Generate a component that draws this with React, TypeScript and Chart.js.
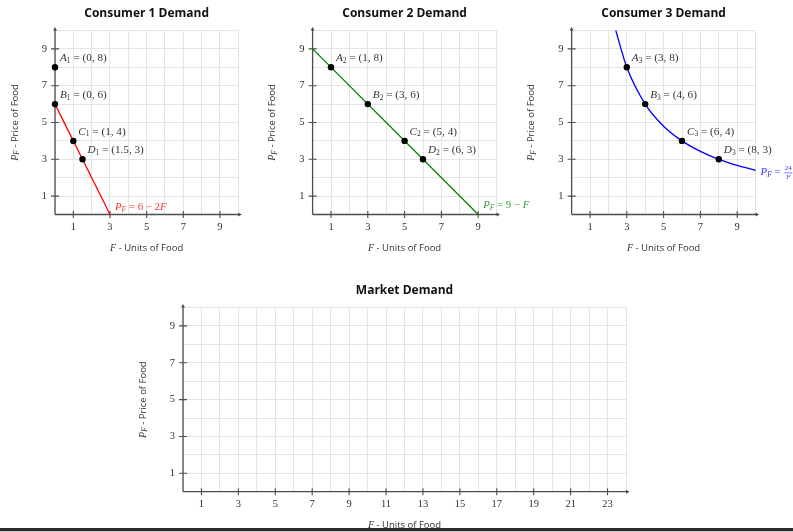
import React, { useEffect, useRef } from 'react';
import { Chart, registerables } from 'chart.js';

Chart.register(...registerables);

// ---------- data ----------
const pointNames = ['A', 'B', 'C', 'D'];

const c1X = [0, 0, 1, 1.5];
const c1Y = [8, 6, 4, 3];
const c1LineX = [0, 3];
const c1LineY = [6, 0];

const c2X = [1, 3, 5, 6];
const c2Y = [8, 6, 4, 3];
const c2LineX = [0, 9];
const c2LineY = [9, 0];

const c3X = [3, 4, 6, 8];
const c3Y = [8, 6, 4, 3];
const c3CurveX = [2.4, 3, 4, 5, 6, 7, 8, 9, 10];
const c3CurveY = [10, 8, 6, 4.8, 4, 3.43, 3, 2.67, 2.4];

const smallXTickLabels = [1, 3, 5, 7, 9];
const marketXTickLabels = [1, 3, 5, 7, 9, 11, 13, 15, 17, 19, 21, 23];
const yTickLabels = [1, 3, 5, 7, 9];

// ---------- styles ----------
const SANS = '"Open Sans", "DejaVu Sans", sans-serif';
const SERIF = '"Liberation Serif", "DejaVu Serif", serif';
const TEXT = '#333333';
const GRID = '#e4e4e4';
const AXIS = '#4d4d4d';

type Part = { t: string; font: string; dy?: number };

const mI = (s: string, size = 11.2): Part => ({ t: s, font: `italic ${size}px ${SERIF}` });
const mT = (s: string, size = 11.2): Part => ({ t: s, font: `${size}px ${SERIF}` });
const mSubI = (s: string): Part => ({ t: s, font: `italic 7.5px ${SERIF}`, dy: 2.5 });
const mSub = (s: string): Part => ({ t: s, font: `7.5px ${SERIF}`, dy: 2.5 });
const sT = (s: string, size = 10): Part => ({ t: s, font: `${size}px ${SANS}` });

function partsWidth(ctx: CanvasRenderingContext2D, parts: Part[]) {
  return parts.reduce((w, p) => {
    ctx.font = p.font;
    return w + ctx.measureText(p.t).width;
  }, 0);
}

function drawParts(
  ctx: CanvasRenderingContext2D,
  parts: Part[],
  x: number,
  y: number,
  align: 'left' | 'center',
  color: string
) {
  ctx.save();
  ctx.textBaseline = 'middle';
  ctx.textAlign = 'left';
  ctx.fillStyle = color;
  const w = partsWidth(ctx, parts);
  let cx = align === 'center' ? x - w / 2 : x;
  for (const p of parts) {
    ctx.font = p.font;
    ctx.fillText(p.t, cx, y + (p.dy || 0));
    cx += ctx.measureText(p.t).width;
  }
  ctx.restore();
  return cx;
}

type Panel = {
  title: string;
  width: number;
  height: number;
  area: { left: number; top: number; right: number; bottom: number };
  xMax: number;
  yMax: number;
  xLabels: number[];
  yLabels: number[];
  datasets: any[];
  points?: { xs: number[]; ys: number[]; sub: string };
  equation?: {
    at: [number, number];
    dx: number;
    dy: number;
    color: string;
    parts: Part[];
    fraction?: [string, string];
  };
};

const fmt = (v: number) => String(v);

function makeDecor(p: Panel) {
  return {
    id: 'decor',
    beforeDatasetsDraw(chart: any) {
      const { ctx, scales } = chart;
      const x = scales.x;
      const y = scales.y;
      const x0 = x.getPixelForValue(0);
      const y0 = y.getPixelForValue(0);
      const xEnd = x.getPixelForValue(p.xMax);
      const yEnd = y.getPixelForValue(p.yMax);
      ctx.save();
      ctx.strokeStyle = AXIS;
      ctx.fillStyle = AXIS;
      ctx.lineWidth = 1.3;
      ctx.beginPath();
      ctx.moveTo(x0, y0);
      ctx.lineTo(xEnd + 1, y0);
      ctx.moveTo(x0, y0);
      ctx.lineTo(x0, yEnd - 1);
      ctx.stroke();
      // arrows
      ctx.beginPath();
      ctx.moveTo(xEnd + 3.5, y0);
      ctx.lineTo(xEnd, y0 - 2);
      ctx.lineTo(xEnd, y0 + 2);
      ctx.closePath();
      ctx.fill();
      ctx.beginPath();
      ctx.moveTo(x0, yEnd - 3.5);
      ctx.lineTo(x0 - 2, yEnd);
      ctx.lineTo(x0 + 2, yEnd);
      ctx.closePath();
      ctx.fill();
      // tick marks
      ctx.lineWidth = 1.1;
      ctx.beginPath();
      for (const v of p.xLabels) {
        const px = x.getPixelForValue(v);
        ctx.moveTo(px, y0 - 3.5);
        ctx.lineTo(px, y0 + 3.5);
      }
      for (const v of p.yLabels) {
        const py = y.getPixelForValue(v);
        ctx.moveTo(x0 - 4, py);
        ctx.lineTo(x0 + 4, py);
      }
      ctx.stroke();
      ctx.restore();
    },
    afterDatasetsDraw(chart: any) {
      const { ctx, scales } = chart;
      const x = scales.x;
      const y = scales.y;
      if (p.points) {
        const { xs, ys, sub } = p.points;
        xs.forEach((xv, i) => {
          const px = x.getPixelForValue(xv);
          const py = y.getPixelForValue(ys[i]);
          drawParts(
            ctx,
            [mI(pointNames[i]), mSub(sub), mT(` = (${fmt(xv)}, ${fmt(ys[i])})`)],
            px + 5,
            py - 9,
            'left',
            TEXT
          );
        });
      }
      if (p.equation) {
        const e = p.equation;
        const px = x.getPixelForValue(e.at[0]) + e.dx;
        const py = y.getPixelForValue(e.at[1]) + e.dy;
        const endX = drawParts(ctx, e.parts, px, py, 'left', e.color);
        if (e.fraction) {
          ctx.save();
          ctx.fillStyle = e.color;
          ctx.strokeStyle = e.color;
          ctx.textAlign = 'center';
          ctx.textBaseline = 'middle';
          ctx.font = `7px ${SERIF}`;
          const w = Math.max(ctx.measureText(e.fraction[0]).width, 6) + 1;
          const cx = endX + w / 2 + 1;
          ctx.fillText(e.fraction[0], cx, py - 4);
          ctx.font = `italic 7px ${SERIF}`;
          ctx.fillText(e.fraction[1], cx, py + 4.5);
          ctx.lineWidth = 0.6;
          ctx.beginPath();
          ctx.moveTo(cx - w / 2, py + 0.5);
          ctx.lineTo(cx + w / 2, py + 0.5);
          ctx.stroke();
          ctx.restore();
        }
      }
    },
    afterDraw(chart: any) {
      const { ctx, chartArea: a } = chart;
      const cx = (a.left + a.right) / 2;
      const cy = (a.top + a.bottom) / 2;
      ctx.save();
      ctx.fillStyle = '#111';
      ctx.textAlign = 'center';
      ctx.textBaseline = 'middle';
      ctx.font = `bold 12px ${SANS}`;
      ctx.fillText(p.title, cx, a.top - 16.5);
      ctx.restore();
      drawParts(ctx, [mI('F', 10), sT(' - Units of Food', 9.5)], cx, a.bottom + 33.5, 'center', TEXT);
      ctx.save();
      ctx.translate(a.left - 40, cy);
      ctx.rotate(-Math.PI / 2);
      drawParts(
        ctx,
        [mI('P', 10), mSubI('F'), sT(' - Price of Food', 9.5)],
        0,
        0,
        'center',
        TEXT
      );
      ctx.restore();
    },
  };
}

function buildConfig(p: Panel): any {
  const a = p.area;
  return {
    type: 'scatter',
    data: { datasets: p.datasets },
    options: {
      responsive: false,
      animation: false,
      events: [],
      layout: { padding: { left: 0, top: a.top, right: p.width - a.right, bottom: 0 } },
      plugins: { legend: { display: false }, tooltip: { enabled: false }, title: { display: false } },
      scales: {
        x: {
          type: 'linear',
          min: 0,
          max: p.xMax,
          afterFit: (s: any) => {
            s.height = p.height - a.bottom;
          },
          ticks: {
            stepSize: 1,
            autoSkip: false,
            maxRotation: 0,
            padding: 6,
            color: TEXT,
            font: { family: SERIF, size: 10.5 },
            callback: (v: any) => (p.xLabels.includes(Number(v)) ? String(v) : ''),
          },
          grid: { color: GRID, lineWidth: 1, drawTicks: false },
          border: { display: false },
        },
        y: {
          type: 'linear',
          min: 0,
          max: p.yMax,
          afterFit: (s: any) => {
            s.width = a.left;
          },
          ticks: {
            stepSize: 1,
            autoSkip: false,
            padding: 8,
            color: TEXT,
            font: { family: SERIF, size: 10.5 },
            callback: (v: any) => (p.yLabels.includes(Number(v)) ? String(v) : ''),
          },
          grid: { color: GRID, lineWidth: 1, drawTicks: false },
          border: { display: false },
        },
      },
    },
    plugins: [makeDecor(p)],
  };
}

const toPts = (xs: number[], ys: number[]) => xs.map((x, i) => ({ x, y: ys[i] }));

const lineDs = (xs: number[], ys: number[], color: string, curve = false) => ({
  data: toPts(xs, ys),
  showLine: true,
  borderColor: color,
  borderWidth: 1.3,
  pointRadius: 0,
  clip: false,
  cubicInterpolationMode: curve ? 'monotone' : 'default',
  order: 2,
});

const dotDs = (xs: number[], ys: number[]) => ({
  data: toPts(xs, ys),
  showLine: false,
  pointRadius: 3.2,
  pointBackgroundColor: '#000',
  pointBorderWidth: 0,
  clip: false,
  order: 1,
});

const panel1: Panel = {
  title: 'Consumer 1 Demand',
  width: 260,
  height: 260,
  area: { left: 55, top: 30.5, right: 238.3, bottom: 214.5 },
  xMax: 10,
  yMax: 10,
  xLabels: smallXTickLabels,
  yLabels: yTickLabels,
  datasets: [lineDs(c1LineX, c1LineY, '#ff0000'), dotDs(c1X, c1Y)],
  points: { xs: c1X, ys: c1Y, sub: '1' },
  equation: {
    at: [c1LineX[1], c1LineY[1]],
    dx: 5,
    dy: -7,
    color: '#ff3333',
    parts: [mI('P', 10.8), mSubI('F'), mT(' = 6 − 2', 10.8), mI('F', 10.8)],
  },
};

const panel2: Panel = {
  title: 'Consumer 2 Demand',
  width: 290,
  height: 260,
  area: { left: 52.6, top: 30.5, right: 236.6, bottom: 214.5 },
  xMax: 10,
  yMax: 10,
  xLabels: smallXTickLabels,
  yLabels: yTickLabels,
  datasets: [lineDs(c2LineX, c2LineY, '#008000'), dotDs(c2X, c2Y)],
  points: { xs: c2X, ys: c2Y, sub: '2' },
  equation: {
    at: [c2LineX[1], c2LineY[1]],
    dx: 5,
    dy: -9,
    color: '#33a033',
    parts: [mI('P', 10.8), mSubI('F'), mT(' = 9 − ', 10.8), mI('F', 10.8)],
  },
};

const panel3: Panel = {
  title: 'Consumer 3 Demand',
  width: 273,
  height: 260,
  area: { left: 51.6, top: 30.5, right: 235.6, bottom: 214.5 },
  xMax: 10,
  yMax: 10,
  xLabels: smallXTickLabels,
  yLabels: yTickLabels,
  datasets: [lineDs(c3CurveX, c3CurveY, '#0000ff', true), dotDs(c3X, c3Y)],
  points: { xs: c3X, ys: c3Y, sub: '3' },
  equation: {
    at: [c3CurveX[c3CurveX.length - 1], c3CurveY[c3CurveY.length - 1]],
    dx: 5,
    dy: 2,
    color: '#3333ff',
    parts: [mI('P', 10.8), mSubI('F'), mT(' = ', 10.8)],
    fraction: ['24', 'F'],
  },
};

const panel4: Panel = {
  title: 'Market Demand',
  width: 520,
  height: 262,
  area: { left: 53, top: 37.5, right: 496, bottom: 221.7 },
  xMax: 24,
  yMax: 10,
  xLabels: marketXTickLabels,
  yLabels: yTickLabels,
  datasets: [],
};

function PanelChart({ panel, left, top }: { panel: Panel; left: number; top: number }) {
  const ref = useRef<HTMLCanvasElement>(null);
  useEffect(() => {
    if (!ref.current) return;
    const chart = new Chart(ref.current, buildConfig(panel));
    return () => chart.destroy();
  }, [panel]);
  return (
    <canvas
      ref={ref}
      width={panel.width}
      height={panel.height}
      style={{ position: 'absolute', left, top, width: panel.width, height: panel.height }}
    />
  );
}

export default function App() {
  return (
    <div
      style={{
        position: 'absolute',
        left: 0,
        top: 0,
        width: 793,
        height: 532,
        background: '#fff',
        overflow: 'hidden',
      }}
    >
      <PanelChart panel={panel1} left={0} top={0} />
      <PanelChart panel={panel2} left={260} top={0} />
      <PanelChart panel={panel3} left={520} top={0} />
      <PanelChart panel={panel4} left={130} top={270} />
      <div style={{ position: 'absolute', left: 0, top: 528, width: 793, height: 3, background: '#2b2b2b' }} />
      <div style={{ position: 'absolute', left: 0, top: 531, width: 793, height: 1, background: '#cfcfcf' }} />
    </div>
  );
}
